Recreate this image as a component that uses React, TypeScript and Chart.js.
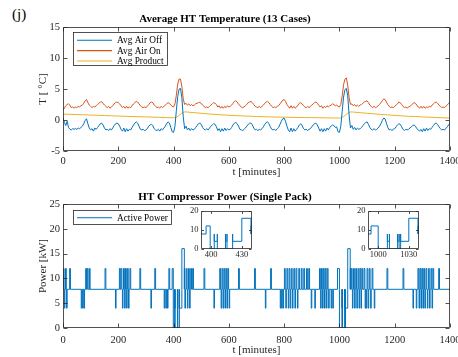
import React, { useEffect, useRef } from "react";
import { Chart, registerables } from "chart.js";

Chart.register(...registerables);

// ---------------- DATA ----------------
// Temperatures sampled every 5 minutes from t = 0 to t = 1400
const SAMPLE_STEP = 5;

const airOn: number[] = [
  1.6, 1.9, 2.3, 2.5, 2.6, 2.4, 2.0, 2.1, 1.9, 2.1, 2.0, 2.2, 2.1, 2.3, 2.4, 2.7, 3.1, 3.3, 2.8, 2.4,
  2.2, 2.0, 2.2, 2.1, 2.3, 2.5, 2.7, 2.9, 2.9, 2.7, 2.4, 2.2, 2.0, 2.2, 1.9, 2.1, 2.3, 2.6, 2.8, 2.9,
  2.8, 2.6, 2.3, 2.0, 2.2, 1.9, 2.2, 1.9, 2.1, 2.0, 2.3, 2.6, 2.8, 3.0, 2.9, 2.6, 2.3, 2.1, 2.0, 2.1,
  2.0, 2.2, 2.5, 2.8, 2.9, 2.8, 2.4, 2.2, 2.0, 2.1, 1.9, 2.2, 2.0, 2.2, 2.4, 2.6, 2.8, 2.7, 2.4, 2.2,
  2.1, 2.6, 4.0, 5.8, 6.6, 6.6, 5.4, 3.4, 2.5, 2.7, 2.4, 2.6, 2.3, 2.5, 2.3, 2.4, 2.6, 2.7, 2.8, 2.85,
  2.7, 2.4, 2.2, 2.0, 2.1, 2.0, 2.2, 2.4, 2.6, 2.8, 2.7, 2.5, 2.1, 2.3, 1.9, 2.2, 1.9, 2.2, 2.0, 2.3,
  2.1, 2.2, 2.4, 2.7, 3.0, 3.1, 2.9, 2.6, 2.3, 2.1, 2.0, 2.1, 2.3, 2.5, 2.8, 2.9, 3.0, 2.8, 2.5, 2.2,
  2.1, 2.0, 2.2, 2.0, 2.2, 2.4, 2.7, 2.9, 3.0, 2.8, 2.5, 2.2, 2.0, 2.1, 2.0, 2.2, 2.3, 2.6, 2.9, 3.2,
  3.3, 3.0, 2.5, 2.2, 1.9, 2.3, 1.9, 2.2, 1.9, 2.1, 2.4, 2.7, 2.8, 2.6, 2.3, 2.1, 2.0, 2.2, 2.0, 2.2,
  2.4, 2.6, 2.8, 2.9, 2.7, 2.4, 2.1, 2.3, 1.9, 2.2, 2.0, 2.3, 2.1, 2.3, 2.4, 2.6, 2.5, 2.3, 2.4, 2.2,
  2.1, 2.5, 3.9, 5.7, 6.6, 6.8, 5.6, 3.6, 2.5, 2.6, 2.3, 2.5, 2.2, 2.4, 2.2, 2.4, 2.5, 2.7, 2.9, 3.0,
  3.1, 2.8, 2.4, 2.2, 2.0, 2.2, 2.0, 2.1, 2.3, 2.5, 2.8, 3.1, 3.4, 3.3, 2.9, 2.5, 2.2, 2.0, 2.1, 2.0,
  2.2, 2.4, 2.6, 2.9, 2.8, 2.5, 2.2, 2.0, 2.1, 1.9, 2.1, 2.2, 2.4, 2.6, 2.8, 2.7, 2.4, 2.1, 1.9, 2.2,
  1.9, 2.2, 1.9, 2.1, 2.0, 2.2, 2.1, 2.4, 2.6, 2.8, 2.9, 2.7, 2.4, 2.2, 2.0, 2.1, 2.0, 2.2, 2.4, 2.7,
  2.9,
];

const airOff: number[] = [
  0.4, -0.4, -0.9, -0.2, -1.2, -1.5, -1.6, -1.4, -1.5, -1.4, -1.5, -1.3, -1.4, -1.2, -1.0, -0.6, -0.1, 0.2, -0.6, -1.3,
  -1.6, -1.4, -1.8, -1.3, -1.5, -1.2, -0.9, -0.6, -0.5, -0.8, -1.3, -1.6, -1.5, -1.7, -1.4, -1.6, -1.3, -0.9, -0.6, -0.5,
  -0.6, -1.0, -1.5, -1.8, -1.3, -1.9, -1.4, -1.8, -1.5, -1.6, -1.2, -0.8, -0.5, -0.3, -0.5, -1.0, -1.5, -1.6, -1.5, -1.7,
  -1.6, -1.4, -1.0, -0.8, -0.7, -0.9, -1.4, -1.6, -1.7, -1.5, -1.8, -1.4, -1.6, -1.3, -1.0, -0.6, -0.3, -0.5, -1.2, -1.9,
  -2.0, -1.0, 1.5, 3.8, 5.0, 5.1, 3.6, 0.5, -1.4, -1.0, -1.6, -1.3, -1.7, -1.4, -1.6, -1.5, -1.2, -0.9, -0.6, -0.5,
  -0.7, -1.2, -1.5, -1.6, -1.4, -1.6, -1.3, -1.0, -0.8, -0.6, -0.7, -1.1, -1.7, -1.4, -1.9, -1.4, -1.8, -1.3, -1.7, -1.4,
  -1.6, -1.5, -1.2, -0.8, -0.5, -0.4, -0.6, -1.0, -1.5, -1.6, -1.7, -1.5, -1.3, -1.0, -0.7, -0.5, -0.5, -0.8, -1.3, -1.6,
  -1.5, -1.7, -1.5, -1.6, -1.4, -1.1, -0.7, -0.4, -0.3, -0.6, -1.1, -1.5, -1.6, -1.5, -1.7, -1.4, -1.2, -0.7, -0.2, 0.2,
  0.3, -0.2, -1.0, -1.6, -1.9, -1.3, -1.9, -1.4, -1.8, -1.5, -1.2, -0.8, -0.6, -0.9, -1.4, -1.6, -1.5, -1.7, -1.5, -1.4,
  -1.1, -0.8, -0.6, -0.5, -0.8, -1.3, -1.8, -1.4, -1.9, -1.4, -1.8, -1.3, -1.6, -1.2, -1.0, -0.8, -0.9, -1.2, -1.1, -1.9,
  -2.0, -1.0, 1.4, 3.7, 4.9, 5.1, 3.9, 0.8, -1.3, -0.9, -1.5, -1.2, -1.6, -1.3, -1.5, -1.4, -1.2, -0.9, -0.6, -0.4,
  -0.3, -0.7, -1.2, -1.5, -1.6, -1.4, -1.6, -1.5, -1.3, -1.0, -0.6, -0.1, 0.3, 0.2, -0.5, -1.2, -1.6, -1.5, -1.7, -1.5,
  -1.4, -1.1, -0.8, -0.6, -0.7, -1.1, -1.5, -1.7, -1.5, -1.6, -1.5, -1.3, -1.1, -0.9, -0.8, -1.0, -1.4, -1.6, -1.8, -1.5,
  -1.9, -1.4, -1.8, -1.3, -1.7, -1.4, -1.5, -1.2, -0.9, -0.6, -0.5, -0.7, -1.1, -1.4, -1.6, -1.5, -1.6, -1.4, -1.1, -0.8,
  -0.5,
];

const productTimes: number[] = [
  0, 50, 100, 150, 200, 250, 300, 350, 400, 410, 420, 430, 440, 450, 500, 550, 600, 650, 700, 750,
  800, 850, 900, 950, 1000, 1010, 1020, 1030, 1040, 1050, 1100, 1150, 1200, 1250, 1300, 1350, 1400,
];
const productVals: number[] = [
  0.95, 0.88, 0.8, 0.72, 0.64, 0.56, 0.5, 0.43, 0.36, 0.45, 0.75, 1.1, 1.3, 1.28, 1.08, 0.9, 0.76, 0.66, 0.57, 0.5,
  0.45, 0.41, 0.38, 0.35, 0.32, 0.42, 0.72, 1.08, 1.3, 1.28, 1.08, 0.9, 0.74, 0.6, 0.5, 0.4, 0.32,
];

// Compressor power: baseline level and [start, end, level] switching events (minutes, kW)
const powerBase = 7.8;
const powerEvents: [number, number, number][] = [
  [1, 4, 12], [5, 7, 4], [9, 12, 12], [13, 15, 4], [24, 27, 12],
  [66, 68, 4], [71, 73, 4], [76, 78, 4], [82, 85, 12], [88, 91, 12], [96, 98, 12],
  [152, 155, 12], [190, 192, 4],
  [204, 207, 12], [210, 213, 12], [215, 217, 4], [219, 222, 12], [223, 225, 4], [226, 229, 12],
  [230, 232, 4], [233, 236, 12], [237, 239, 4], [242, 245, 12],
  [278, 281, 12], [318, 320, 4], [332, 335, 12],
  [366, 368, 4], [372, 374, 4], [378, 380, 4], [383, 386, 12],
  [395, 399, 12], [399, 403, 0], [403, 406, 4], [406, 414, 0], [414, 415.5, 4], [415.5, 421, 0],
  [421, 430, 4], [430, 439, 16], [439, 441, 12],
  [441, 443, 4], [446, 449, 12], [450, 452, 4], [454, 457, 12], [458, 460, 4], [462, 465, 12], [469, 472, 12],
  [510, 513, 12], [546, 548, 4],
  [567, 570, 12], [572, 574, 4], [575, 578, 12], [579, 581, 4], [582, 585, 12], [586, 588, 4],
  [589, 592, 12], [593, 595, 4], [596, 599, 12], [601, 603, 4],
  [635, 638, 12], [693, 696, 12], [732, 734, 4], [751, 754, 12],
  [786, 788, 4], [791, 793, 4], [796, 798, 4], [801, 804, 12], [806, 808, 4], [810, 813, 12],
  [815, 817, 4], [818, 821, 12], [822, 824, 4], [826, 829, 12], [830, 832, 4], [835, 838, 12],
  [839, 841, 4], [843, 846, 12], [848, 850, 4], [853, 856, 12], [862, 865, 12], [871, 874, 12],
  [881, 884, 12], [889, 892, 12],
  [898, 900, 4], [911, 913, 4],
  [928, 931, 12], [932, 934, 4], [935, 938, 12], [939, 941, 4], [942, 945, 12], [946, 948, 4],
  [949, 952, 12], [953, 955, 4], [956, 959, 12], [961, 963, 4], [970, 972, 4], [976, 978, 4],
  [993, 1000, 12], [1000, 1009, 0], [1009, 1011, 4], [1011, 1019, 0], [1019, 1020.5, 4], [1020.5, 1022, 0],
  [1022, 1030, 4], [1030, 1039, 16], [1039, 1041, 12],
  [1043, 1046, 12], [1047, 1049, 4], [1051, 1054, 12], [1055, 1057, 4], [1059, 1062, 12], [1063, 1065, 4],
  [1067, 1070, 12], [1071, 1073, 4], [1074, 1077, 12], [1078, 1080, 4], [1081, 1084, 12], [1089, 1092, 12],
  [1093, 1095, 4], [1097, 1099, 4], [1100, 1103, 12], [1104, 1106, 4], [1108, 1111, 12], [1113, 1115, 4],
  [1118, 1121, 12], [1126, 1128, 4],
  [1172, 1175, 12], [1230, 1233, 12], [1266, 1268, 4],
  [1278, 1280, 4], [1284, 1287, 12], [1288, 1290, 4], [1291, 1294, 12], [1295, 1297, 4], [1298, 1301, 12],
  [1302, 1304, 4], [1305, 1308, 12], [1309, 1311, 4], [1313, 1316, 12], [1318, 1320, 4], [1322, 1325, 12],
  [1326, 1328, 4], [1331, 1334, 12], [1335, 1337, 4], [1338, 1341, 12],
  [1359, 1362, 12],
];

const xTicks: number[] = [0, 200, 400, 600, 800, 1000, 1200, 1400];
const tempTicks: number[] = [-5, 0, 5, 10, 15];
const powerTicks: number[] = [0, 5, 10, 15, 20, 25];
const insetYTicks: number[] = [0, 10, 20];
const inset1XTicks: number[] = [400, 430];
const inset2XTicks: number[] = [1000, 1030];

// ---------------- STYLE ----------------
const serif = "'Liberation Serif', 'Times New Roman', serif";
const AXIS = "#262626";
const BLUE = "#0072BD";
const ORANGE = "#D95319";
const YELLOW = "#EDB120";

const plain = (v: any) => String(v);

const framePlugin = {
  id: "matFrame",
  beforeDatasetsDraw(chart: any, _a: any, opts: any) {
    if (opts && opts.fill) {
      const { ctx, chartArea: c } = chart;
      ctx.save();
      ctx.fillStyle = "#fff";
      ctx.fillRect(c.left, c.top, c.right - c.left, c.bottom - c.top);
      ctx.restore();
    }
  },
  afterDatasetsDraw(chart: any, _a: any, opts: any) {
    const { ctx, chartArea: c } = chart;
    const tl = (opts && opts.tick) || 4;
    const L = Math.round(c.left) + 0.5;
    const R = Math.round(c.right) - 0.5;
    const T = Math.round(c.top) + 0.5;
    const B = Math.round(c.bottom) - 0.5;
    ctx.save();
    ctx.strokeStyle = AXIS;
    ctx.lineWidth = 0.8;
    ctx.beginPath();
    ctx.rect(L, T, R - L, B - T);
    const xs = chart.scales.x;
    const ys = chart.scales.y;
    xs.ticks.forEach((t: any) => {
      const p = Math.round(xs.getPixelForValue(t.value)) + 0.5;
      ctx.moveTo(p, B);
      ctx.lineTo(p, B - tl);
      ctx.moveTo(p, T);
      ctx.lineTo(p, T + tl);
    });
    ys.ticks.forEach((t: any) => {
      const p = Math.round(ys.getPixelForValue(t.value)) + 0.5;
      ctx.moveTo(L, p);
      ctx.lineTo(L + tl, p);
      ctx.moveTo(R, p);
      ctx.lineTo(R - tl, p);
    });
    ctx.stroke();
    ctx.restore();
  },
};

const legendPlugin = {
  id: "boxLegend",
  afterDraw(chart: any, _a: any, o: any) {
    if (!o || !o.show) return;
    const { ctx, chartArea } = chart;
    const x0 = chartArea.left + o.dx;
    const y0 = chartArea.top + o.dy;
    const items = chart.data.datasets;
    ctx.save();
    ctx.font = `${o.size}px ${serif}`;
    const maxW = Math.max(...items.map((d: any) => ctx.measureText(d.label).width));
    const w = o.lineStart + o.lineLen + o.gap + maxW + o.padR;
    const h = o.first + (items.length - 1) * o.row + o.last;
    ctx.fillStyle = "#fff";
    ctx.fillRect(x0, y0, w, h);
    ctx.strokeStyle = AXIS;
    ctx.lineWidth = 0.8;
    ctx.strokeRect(Math.round(x0) + 0.5, Math.round(y0) + 0.5, Math.round(w), Math.round(h));
    items.forEach((d: any, i: number) => {
      const cy = y0 + o.first + o.row * i;
      ctx.strokeStyle = d.borderColor;
      ctx.lineWidth = 1.1;
      ctx.beginPath();
      ctx.moveTo(x0 + o.lineStart, cy);
      ctx.lineTo(x0 + o.lineStart + o.lineLen, cy);
      ctx.stroke();
      ctx.fillStyle = "#000";
      ctx.textBaseline = "middle";
      ctx.textAlign = "left";
      ctx.fillText(d.label, x0 + o.lineStart + o.lineLen + o.gap, cy + 0.5);
    });
    ctx.restore();
  },
};

function setTicks(values: number[]) {
  return (axis: any) => {
    axis.ticks = values.map((v) => ({ value: v }));
  };
}

function powerPoints() {
  const pts: { x: number; y: number }[] = [{ x: 0, y: powerBase }];
  powerEvents.forEach(([s, e, lvl]) => {
    pts.push({ x: s, y: lvl });
    pts.push({ x: e, y: powerBase });
  });
  pts.push({ x: 1400, y: powerBase });
  return pts;
}

const tickFont = { family: serif, size: 10.5 };
const labelFont = { family: serif, size: 11 };

function topConfig(): any {
  const times = airOn.map((_, i) => i * SAMPLE_STEP);
  return {
    type: "line",
    data: {
      datasets: [
        { label: "Avg Air Off", data: times.map((t, i) => ({ x: t, y: airOff[i] })), borderColor: BLUE, borderWidth: 1, pointRadius: 0, tension: 0 },
        { label: "Avg Air On", data: times.map((t, i) => ({ x: t, y: airOn[i] })), borderColor: ORANGE, borderWidth: 1, pointRadius: 0, tension: 0 },
        { label: "Avg Product", data: productTimes.map((t, i) => ({ x: t, y: productVals[i] })), borderColor: YELLOW, borderWidth: 1, pointRadius: 0, tension: 0.3 },
      ],
    },
    plugins: [framePlugin, legendPlugin],
    options: {
      responsive: false,
      animation: false,
      layout: { padding: { left: 0, right: 20, top: 0, bottom: 0 } },
      plugins: {
        legend: { display: false },
        tooltip: { enabled: false },
        title: { display: true, text: "Average HT Temperature (13 Cases)", color: "#000", font: { family: serif, size: 11, weight: "bold" }, padding: { top: 12.7, bottom: 1.1 } },
        matFrame: { tick: 4 },
        boxLegend: { show: true, dx: 10, dy: 5.3, size: 9.3, lineStart: 4, lineLen: 35, gap: 5, padR: 3, first: 8, row: 10.35, last: 4.7 },
      },
      scales: {
        x: {
          type: "linear", min: 0, max: 1400,
          afterBuildTicks: setTicks(xTicks),
          afterFit: (s: any) => { s.height = 29; },
          grid: { display: false, drawTicks: false }, border: { display: false },
          ticks: { font: tickFont, color: AXIS, padding: 4, maxRotation: 0, autoSkip: false, callback: plain },
          title: { display: true, text: "t [minutes]", color: AXIS, font: labelFont, padding: { top: 0, bottom: 1.4 } },
        },
        y: {
          type: "linear", min: -5, max: 15,
          afterBuildTicks: setTicks(tempTicks),
          afterFit: (s: any) => { s.width = 63; },
          grid: { display: false, drawTicks: false }, border: { display: false },
          ticks: { font: tickFont, color: AXIS, padding: 3, callback: plain },
          title: { display: true, text: "T [ °C]", color: AXIS, font: labelFont, padding: { top: 36.4, bottom: 0 } },
        },
      },
    },
  };
}

function bottomConfig(): any {
  return {
    type: "line",
    data: {
      datasets: [
        { label: "Active Power", data: powerPoints(), borderColor: BLUE, borderWidth: 1, pointRadius: 0, stepped: "before" },
      ],
    },
    plugins: [framePlugin, legendPlugin],
    options: {
      responsive: false,
      animation: false,
      layout: { padding: { left: 0, right: 20, top: 0, bottom: 0 } },
      plugins: {
        legend: { display: false },
        tooltip: { enabled: false },
        title: { display: true, text: "HT Compressor Power (Single Pack)", color: "#000", font: { family: serif, size: 11, weight: "bold" }, padding: { top: 10.4, bottom: 0.4 } },
        matFrame: { tick: 4 },
        boxLegend: { show: true, dx: 10, dy: 6, size: 9.3, lineStart: 4, lineLen: 35, gap: 5, padR: 3.3, first: 7.7, row: 10, last: 6.6 },
      },
      scales: {
        x: {
          type: "linear", min: 0, max: 1400,
          afterBuildTicks: setTicks(xTicks),
          afterFit: (s: any) => { s.height = 29; },
          grid: { display: false, drawTicks: false }, border: { display: false },
          ticks: { font: tickFont, color: AXIS, padding: 6, maxRotation: 0, autoSkip: false, callback: plain },
          title: { display: true, text: "t [minutes]", color: AXIS, font: labelFont, padding: { top: 0, bottom: 0 } },
        },
        y: {
          type: "linear", min: 0, max: 25,
          afterBuildTicks: setTicks(powerTicks),
          afterFit: (s: any) => { s.width = 63; },
          grid: { display: false, drawTicks: false }, border: { display: false },
          ticks: { font: tickFont, color: AXIS, padding: 3, callback: plain },
          title: { display: true, text: "Power [kW]", color: AXIS, font: labelFont, padding: { top: 36.4, bottom: 0 } },
        },
      },
    },
  };
}

function insetConfig(xmin: number, xmax: number, xt: number[]): any {
  return {
    type: "line",
    data: {
      datasets: [
        { label: "Active Power", data: powerPoints(), borderColor: BLUE, borderWidth: 1, pointRadius: 0, stepped: "before" },
      ],
    },
    plugins: [framePlugin],
    options: {
      responsive: false,
      animation: false,
      layout: { padding: { left: 0, right: 3, top: 7, bottom: 0 } },
      plugins: {
        legend: { display: false },
        tooltip: { enabled: false },
        title: { display: false },
        matFrame: { tick: 2.5, fill: true },
      },
      scales: {
        x: {
          type: "linear", min: xmin, max: xmax,
          afterBuildTicks: setTicks(xt),
          afterFit: (s: any) => { s.height = 14; },
          grid: { display: false, drawTicks: false }, border: { display: false },
          ticks: { font: { family: serif, size: 8.5 }, color: AXIS, padding: 1, maxRotation: 0, autoSkip: false, callback: plain },
        },
        y: {
          type: "linear", min: 0, max: 20,
          afterBuildTicks: setTicks(insetYTicks),
          afterFit: (s: any) => { s.width = 18; },
          grid: { display: false, drawTicks: false }, border: { display: false },
          ticks: { font: { family: serif, size: 8.5 }, color: AXIS, padding: 2.5, callback: plain },
        },
      },
    },
  };
}

function ChartBox(props: { left: number; top: number; width: number; height: number; make: () => any }) {
  const ref = useRef<HTMLCanvasElement>(null);
  useEffect(() => {
    const chart = new Chart(ref.current as HTMLCanvasElement, props.make());
    return () => chart.destroy();
  }, []);
  return (
    <canvas
      ref={ref}
      width={props.width}
      height={props.height}
      style={{ position: "absolute", left: props.left, top: props.top, width: props.width, height: props.height }}
    />
  );
}

export default function App() {
  return (
    <div style={{ position: "absolute", left: 0, top: 0, width: 458, height: 357, overflow: "hidden", background: "#fff" }}>
      <div style={{ position: "absolute", left: 12, top: 5, fontFamily: serif, fontSize: 15, lineHeight: "18px", color: "#000" }}>(j)</div>
      <ChartBox left={0} top={0} width={470} height={180} make={topConfig} />
      <ChartBox left={0} top={180} width={470} height={177} make={bottomConfig} />
      <ChartBox left={183} top={203} width={72} height={60} make={() => insetConfig(390, 440, inset1XTicks)} />
      <ChartBox left={350} top={203} width={72} height={60} make={() => insetConfig(990, 1040, inset2XTicks)} />
    </div>
  );
}
